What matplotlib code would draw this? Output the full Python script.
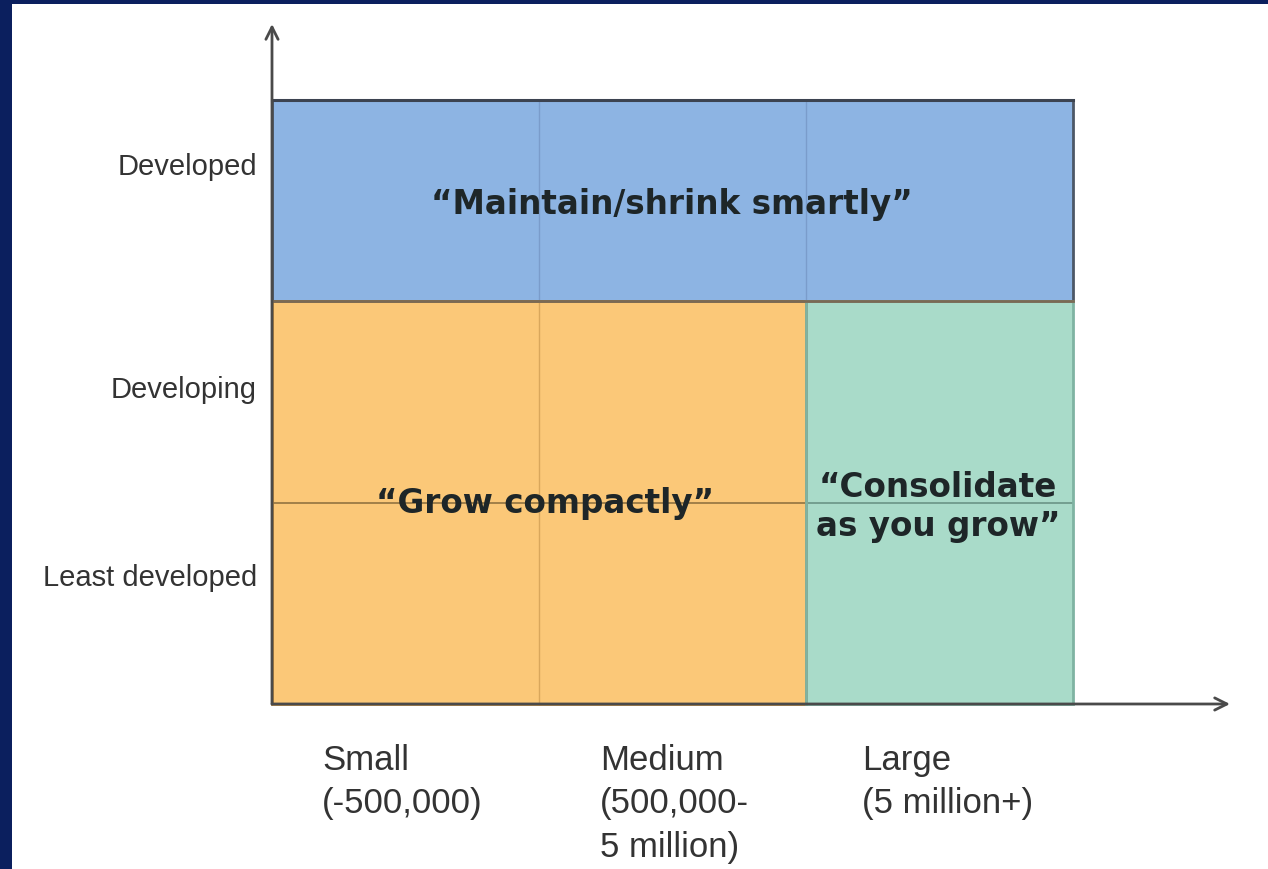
import matplotlib
matplotlib.use("Agg")
import matplotlib.pyplot as plt
from matplotlib.patches import Rectangle

# ---- data ----
size_labels = ["Small\n(-500,000)", "Medium\n(500,000-\n5 million)", "Large\n(5 million+)"]
dev_labels = ["Least developed", "Developing", "Developed"]
region_names = ["\u201cMaintain/shrink smartly\u201d", "\u201cGrow compactly\u201d", "\u201cConsolidate\nas you grow\u201d"]
region_x0 = [0, 0, 2]
region_x1 = [3, 2, 3]
region_y0 = [2, 0, 0]
region_y1 = [3, 2, 2]

# ---- style ----
W, H = 1268, 870
fig = plt.figure(figsize=(W / 100, H / 100), dpi=100, facecolor="white")
fig.patches.append(Rectangle((0, 0), 12 / W, 1, transform=fig.transFigure,
                             facecolor="#0b1f5e", edgecolor="none", zorder=-10))
fig.patches.append(Rectangle((0, 1 - 5 / H), 1, 5 / H, transform=fig.transFigure,
                             facecolor="#0b1f5e", edgecolor="none", zorder=-10))

px_l, px_r, px_t, px_b = 272, 1073, 101, 705
ax = fig.add_axes([px_l / W, (H - px_b) / H, (px_r - px_l) / W, (px_b - px_t) / H])
ax.set_zorder(5)
ax.set_xlim(0, 3)
ax.set_ylim(0, 3)
ax.set_facecolor("none")
for s in ax.spines.values():
    s.set_visible(False)
ax.set_xticks([])
ax.set_yticks([])

cw = (px_r - px_l) / 3.0
ch = (px_b - px_t) / 3.0

fills = ["#8db4e3", "#fbc878", "#a9dbc9"]
edges = ["#4d5766", "#b8843a", "#7fb3a2"]
inner = ["#7a9ccb", "#d9a75c", None]
text_pos = [(1.498, 2.484), (1.022, 1.003), (2.494, 0.985)]

for i in range(3):
    x0, x1, y0, y1 = region_x0[i], region_x1[i], region_y0[i], region_y1[i]
    ax.add_patch(Rectangle((x0, y0), x1 - x0, y1 - y0, facecolor=fills[i],
                           edgecolor="none", zorder=1, clip_on=False))
    if inner[i]:
        for gx in range(x0 + 1, x1):
            ax.plot([gx, gx], [y0, y1], color=inner[i], lw=1.0, zorder=2, clip_on=False)

ax.plot([0, 2], [1, 1], color="#9a7a45", lw=1.3, zorder=2, clip_on=False)
ax.plot([2, 3], [1, 1], color="#6f9a8c", lw=1.3, zorder=2, clip_on=False)

for i in range(3):
    x0, x1, y0, y1 = region_x0[i], region_x1[i], region_y0[i], region_y1[i]
    ax.add_patch(Rectangle((x0, y0), x1 - x0, y1 - y0, facecolor="none",
                           edgecolor=edges[i], lw=2.0, zorder=3, clip_on=False))
ax.plot([0, 3], [3, 3], color="#3c4350", lw=2.2, zorder=4, clip_on=False)
ax.plot([0, 3], [2, 2], color="#7a6a55", lw=2.0, zorder=4, clip_on=False)

for i in range(3):
    ax.text(text_pos[i][0], text_pos[i][1], region_names[i], ha="center", va="center",
            fontsize=23.5, fontweight="bold", family="DejaVu Sans", color="#1e2628",
            linespacing=1.22, zorder=5)

# axes arrows
y_top = 3 + (px_t - 25) / ch
x_right = 3 + (1230 - px_r) / cw
ax.annotate("", xy=(0, y_top), xytext=(0, 0),
            arrowprops=dict(arrowstyle="->", color="#4a4a4a", lw=2.0, mutation_scale=22,
                            shrinkA=0, shrinkB=0),
            annotation_clip=False, zorder=6)
ax.annotate("", xy=(x_right, 0), xytext=(0, 0),
            arrowprops=dict(arrowstyle="->", color="#4a4a4a", lw=2.0, mutation_scale=22,
                            shrinkA=0, shrinkB=0),
            annotation_clip=False, zorder=6)

# y category labels
label_y_px = [578, 390, 167]
for lab, ypx in zip(dev_labels, label_y_px):
    ax.text(-(px_l - 257) / cw, (px_b - ypx) / ch, lab, ha="right", va="center",
            fontsize=21, family="Liberation Sans", color="#333333", clip_on=False)

# x category labels
label_x_px = [322, 600, 862]
for lab, xpx in zip(size_labels, label_x_px):
    ax.text((xpx - px_l) / cw, -(744 - px_b) / ch, lab, ha="left", va="top",
            fontsize=25, family="Liberation Sans", color="#333333",
            linespacing=1.4, clip_on=False)

fig.savefig("out.png", dpi=100, facecolor=fig.get_facecolor())
